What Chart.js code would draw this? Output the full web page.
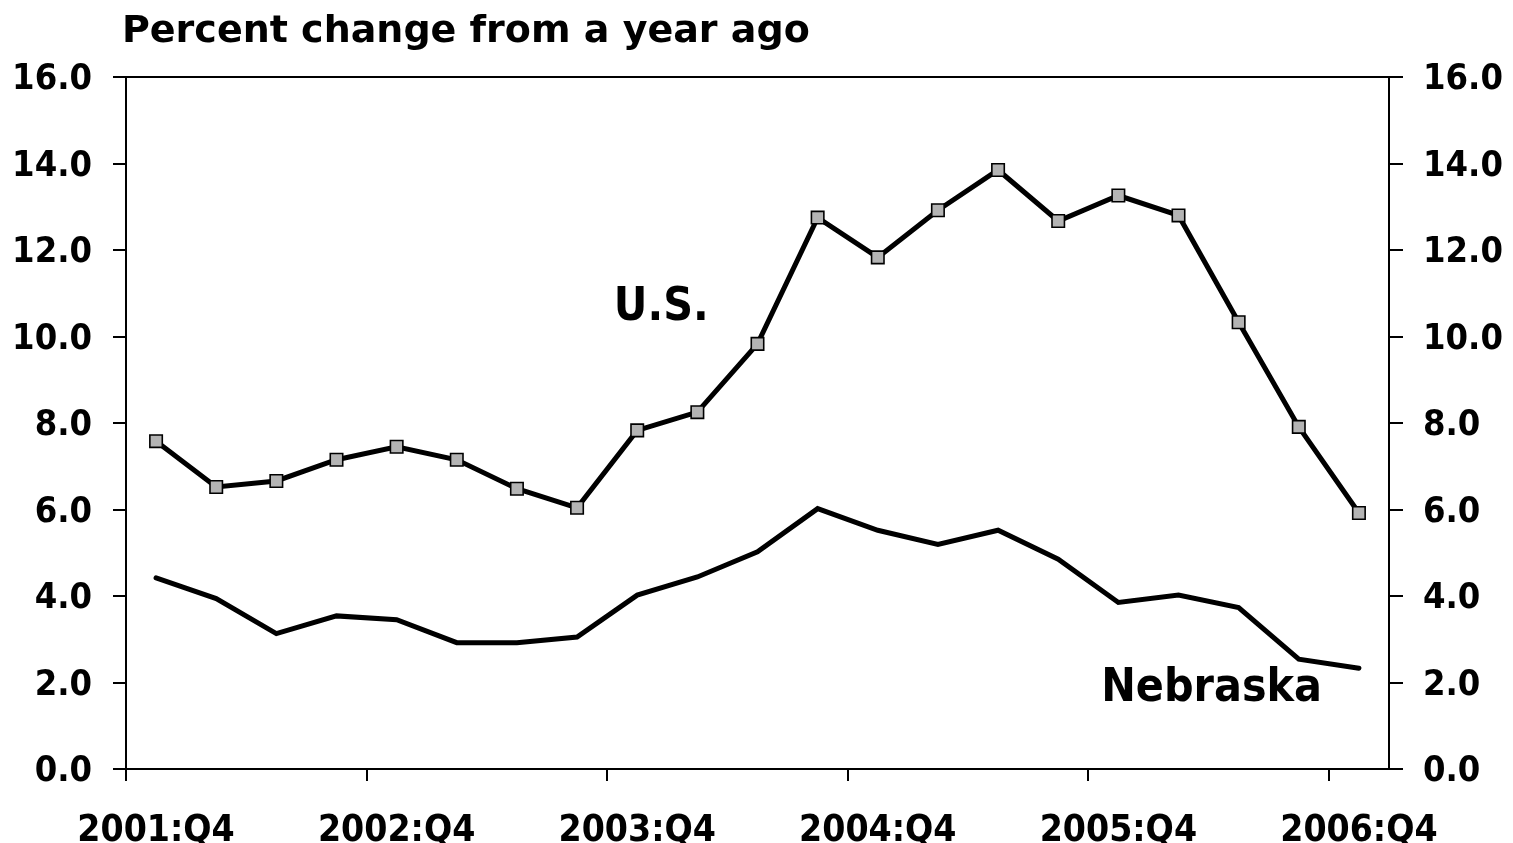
<!DOCTYPE html>
<html>
<head>
<meta charset="utf-8">
<script src="https://cdn.jsdelivr.net/npm/chart.js@4.4.1/dist/chart.umd.min.js"></script>
<style>
  html, body { margin: 0; padding: 0; background: #ffffff; }
  #wrap { width: 1513px; height: 843px; position: relative; }
</style>
</head>
<body>
<div id="wrap"><canvas id="c" width="1513" height="843"></canvas></div>
<script>
const categories = [
  '2001:Q4', '2002:Q1', '2002:Q2', '2002:Q3',
  '2002:Q4', '2003:Q1', '2003:Q2', '2003:Q3',
  '2003:Q4', '2004:Q1', '2004:Q2', '2004:Q3',
  '2004:Q4', '2005:Q1', '2005:Q2', '2005:Q3',
  '2005:Q4', '2006:Q1', '2006:Q2', '2006:Q3',
  '2006:Q4'
];
const usValues = [7.58, 6.52, 6.66, 7.15, 7.45, 7.15, 6.48, 6.04, 7.83, 8.25, 9.83, 12.75, 11.83, 12.92, 13.85, 12.67, 13.26, 12.80, 10.33, 7.91, 5.92];
const nebraskaValues = [4.42, 3.94, 3.13, 3.54, 3.45, 2.92, 2.92, 3.05, 4.02, 4.44, 5.02, 6.02, 5.52, 5.19, 5.52, 4.85, 3.85, 4.02, 3.73, 2.54, 2.33];
const yTickValues = [0, 2, 4, 6, 8, 10, 12, 14, 16];
const titleText = 'Percent change from a year ago';
const seriesLabels = ['U.S.', 'Nebraska'];
// label anchors in data units (category index, value)
const labelAnchors = [[8.4, 10.39], [17.55, 1.57]];

const FONT = "'DejaVu Sans Condensed', 'DejaVu Sans', sans-serif";
const TITLE_FONT = "'DejaVu Sans', sans-serif";

const overlay = {
  id: 'overlay',
  beforeDatasetsDraw(chart) {
    const ctx = chart.ctx, a = chart.chartArea;
    ctx.save();
    ctx.strokeStyle = '#000';
    ctx.lineWidth = 2;
    ctx.strokeRect(a.left, a.top, a.right - a.left, a.bottom - a.top);
    ctx.restore();
  },
  afterDraw(chart) {
    const ctx = chart.ctx;
    const xs = chart.scales.x, ys = chart.scales.y;
    ctx.save();
    ctx.fillStyle = '#000';
    ctx.textBaseline = 'alphabetic';
    ctx.textAlign = 'left';
    ctx.font = 'bold 38px ' + TITLE_FONT;
    ctx.fillText(titleText, 122, 42);
    ctx.font = 'bold 46px ' + FONT;
    ctx.textAlign = 'center';
    seriesLabels.forEach((t, i) => {
      const [ix, v] = labelAnchors[i];
      const px = xs.getPixelForValue(0) + ix * (xs.getPixelForValue(1) - xs.getPixelForValue(0));
      ctx.fillText(t, px, ys.getPixelForValue(v));
    });
    ctx.restore();
  }
};

const yAxisCommon = (pos, pad, tl, w) => ({
  type: 'linear',
  position: pos,
  min: 0,
  max: 16,
  afterBuildTicks: (s) => { s.ticks = yTickValues.map(v => ({ value: v })); },
  afterFit: (s) => { s.width = w; },
  ticks: {
    color: '#000',
    padding: pad,
    labelOffset: 3,
    font: { family: FONT, size: 36, weight: 'bold' },
    callback: (v) => Number(v).toFixed(1)
  },
  grid: {
    drawOnChartArea: false,
    drawTicks: true,
    tickLength: tl,
    tickWidth: 2,
    tickColor: '#000',
    color: '#000',
    lineWidth: 2
  },
  border: { display: false }
});

new Chart(document.getElementById('c'), {
  type: 'line',
  data: {
    labels: categories,
    datasets: [
      {
        label: 'Nebraska',
        data: nebraskaValues,
        borderColor: '#000',
        borderWidth: 5,
        pointRadius: 0,
        pointHoverRadius: 0,
        tension: 0,
        fill: false,
        borderCapStyle: 'round',
        yAxisID: 'y'
      },
      {
        label: 'U.S.',
        data: usValues,
        borderColor: '#000',
        borderWidth: 5,
        pointStyle: 'rect',
        pointRadius: 8.8,
        pointHoverRadius: 8.8,
        pointBackgroundColor: '#b4b4b4',
        pointBorderColor: '#000',
        pointBorderWidth: 1.6,
        tension: 0,
        fill: false,
        yAxisID: 'y'
      }
    ]
  },
  options: {
    responsive: false,
    animation: false,
    events: [],
    layout: { padding: { top: 77, left: 0, right: 0, bottom: 0 } },
    plugins: {
      legend: { display: false },
      title: { display: false },
      tooltip: { enabled: false }
    },
    scales: {
      x: {
        type: 'category',
        offset: true,
        afterFit: (s) => { s.height = 74; },
        ticks: {
          autoSkip: false,
          maxRotation: 0,
          minRotation: 0,
          color: '#000',
          padding: 28,
          font: { family: FONT, size: 37, weight: 'bold' },
          callback: function (v, i) { return i % 4 === 0 ? this.getLabelForValue(v) : ''; }
        },
        grid: {
          offset: true,
          drawOnChartArea: false,
          drawTicks: true,
          tickLength: 12,
          tickWidth: 2,
          lineWidth: 2,
          color: '#000',
          tickColor: (ctx) => (ctx.index !== undefined && ctx.index % 4 === 0) ? '#000' : 'rgba(0,0,0,0)'
        },
        border: { display: false }
      },
      y: yAxisCommon('left', 21, 13, 126),
      y2: yAxisCommon('right', 20, 14, 124)
    }
  },
  plugins: [overlay]
});
</script>
</body>
</html>
